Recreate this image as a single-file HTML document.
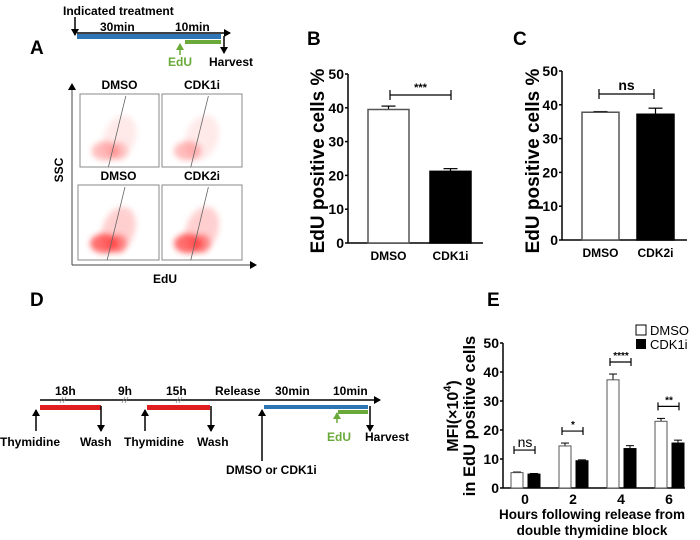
<!DOCTYPE html>
<html><head><meta charset="utf-8">
<style>
html,body{margin:0;padding:0;background:#fff;}
svg{display:block;font-family:"Liberation Sans",sans-serif;}
.b{font-weight:bold;}
</style></head>
<body>
<svg id="fig" width="700" height="540" viewBox="0 0 700 540">
<defs>
<marker id="ah" markerWidth="8" markerHeight="8" refX="6" refY="4" orient="auto" markerUnits="userSpaceOnUse"><path d="M0,0 L7,4 L0,8 z" fill="#000"/></marker>
<marker id="ahg" markerWidth="8" markerHeight="8" refX="6" refY="4" orient="auto" markerUnits="userSpaceOnUse"><path d="M0,0 L7,4 L0,8 z" fill="#6aaa3a"/></marker>
<filter id="blur" x="-50%" y="-50%" width="200%" height="200%"><feGaussianBlur stdDeviation="3"/></filter>
</defs>

<g>
<text x="30" y="54" font-size="19" class="b">A</text>
<text x="63" y="15" font-size="12" class="b">Indicated treatment</text>
<line x1="75" y1="17" x2="75" y2="35" stroke="#000" stroke-width="1.5" marker-end="url(#ah)"/>
<line x1="77" y1="33" x2="230" y2="33" stroke="#000" stroke-width="1.5" marker-end="url(#ah)"/>
<rect x="77" y="34" width="144" height="5" fill="#2e75b6"/>
<rect x="185" y="40" width="36" height="4" fill="#6aaa3a"/>
<line x1="224" y1="36" x2="224" y2="53" stroke="#000" stroke-width="1.5" marker-end="url(#ah)"/>
<line x1="180" y1="55" x2="180" y2="44" stroke="#6aaa3a" stroke-width="1.5" marker-end="url(#ahg)"/>
<text x="100" y="31" font-size="12" class="b">30min</text>
<text x="175" y="31" font-size="12" class="b">10min</text>
<text x="168" y="66" font-size="12" class="b" fill="#6aaa3a">EdU</text>
<text x="209" y="66" font-size="12" class="b">Harvest</text>
</g>

<g>
<line x1="72" y1="265" x2="72" y2="84" stroke="#444" stroke-width="1" marker-end="url(#ah)"/>
<line x1="72" y1="265" x2="256" y2="265" stroke="#444" stroke-width="1" marker-end="url(#ah)"/>
<text x="63" y="170" font-size="12" class="b" transform="rotate(-90 63 170)" text-anchor="middle">SSC</text>
<text x="165" y="283" font-size="12" class="b" text-anchor="middle">EdU</text>
<g id="plots"></g>
</g>

<g id="chartB"></g>
<g id="chartC"></g>

<g font-size="12" class="b">
<text x="30" y="306" font-size="19" class="b">D</text>
<line x1="40" y1="400" x2="380" y2="400" stroke="#000" stroke-width="1.5" marker-end="url(#ah)"/>
<rect x="40" y="405" width="61" height="5" fill="#e02020"/>
<rect x="147" y="405" width="63" height="5" fill="#e02020"/>
<rect x="264" y="405" width="104" height="4" fill="#2e75b6"/>
<rect x="338" y="410" width="30" height="4" fill="#6aaa3a"/>
<line x1="36" y1="431" x2="36" y2="410" stroke="#000" stroke-width="1.5" marker-end="url(#ah)"/>
<line x1="145" y1="431" x2="145" y2="410" stroke="#000" stroke-width="1.5" marker-end="url(#ah)"/>
<line x1="262" y1="461" x2="262" y2="410" stroke="#000" stroke-width="1.5" marker-end="url(#ah)"/>
<line x1="101" y1="406" x2="101" y2="431" stroke="#000" stroke-width="1.5" marker-end="url(#ah)"/>
<line x1="211" y1="406" x2="211" y2="431" stroke="#000" stroke-width="1.5" marker-end="url(#ah)"/>
<line x1="370" y1="406" x2="370" y2="431" stroke="#000" stroke-width="1.5" marker-end="url(#ah)"/>
<line x1="337" y1="423" x2="337" y2="413" stroke="#6aaa3a" stroke-width="1.5" marker-end="url(#ahg)"/>
<g stroke="#888" stroke-width="0.8"><path d="M60,403 l3,-6 M63,403 l3,-6 M122,403 l3,-6 M125,403 l3,-6 M176,403 l3,-6 M179,403 l3,-6"/></g>
<text x="55" y="395">18h</text><text x="118" y="395">9h</text><text x="166" y="395">15h</text>
<text x="215" y="395">Release</text><text x="275" y="395">30min</text><text x="333" y="395">10min</text>
<text x="0" y="446">Thymidine</text><text x="80" y="446">Wash</text><text x="124" y="446">Thymidine</text><text x="197" y="446">Wash</text>
<text x="226" y="474">DMSO or CDK1i</text><text x="327" y="441" fill="#6aaa3a">EdU</text><text x="365" y="441">Harvest</text>
</g>

<g id="chartE"></g>
</svg>
<script>
const NS="http://www.w3.org/2000/svg";
function mk(p,t,a,txt){const e=document.createElementNS(NS,t);for(const k in a)e.setAttribute(k,a[k]);if(txt!==undefined)e.textContent=txt;p.appendChild(e);return e;}

const plotTitles=["DMSO","CDK1i","DMSO","CDK2i"];
const plotBoxes=[[80,94,79,73],[162,94,80,73],[78,185,81,75],[162,185,80,75]];
const plots=document.getElementById('plots');
plotBoxes.forEach((b,i)=>{
  const g=mk(plots,'g',{});
  
  
  const [x,y,w,h]=b;
  const t=mk(g,'text',{x:x+w/2,y:y-5,'font-size':12,'font-weight':'bold','text-anchor':'middle'},plotTitles[i]);
  
  
  const op=i<2?0.3:0.65;
  mk(g,'ellipse',{cx:x+w*0.5,cy:y+h*0.6,rx:w*0.2,ry:h*0.32,fill:'#ff6060',opacity:op*0.45,filter:'url(#blur)', transform:`rotate(20 ${x+w*0.5} ${y+h*0.6})`});
  mk(g,'ellipse',{cx:x+w*0.32,cy:y+h*0.78,rx:w*0.17,ry:h*0.13,fill:'#ff2020',opacity:op,filter:'url(#blur)'});
  if(i!==1) mk(g,'ellipse',{cx:x+w*0.5,cy:y+h*0.78,rx:w*0.1,ry:h*0.12,fill:'#ff2020',opacity:op*0.7,filter:'url(#blur)'});
  mk(g,'rect',{x:x,y:y,width:w,height:h,fill:'none',stroke:'#888','stroke-width':1});
  mk(g,'line',{x1:x+w*0.36,y1:y+h,x2:x+w*0.58,y2:y+2,stroke:'#666','stroke-width':0.8});
});

const bCats=["DMSO","CDK1i"];
const bVals=[39.5,21.2];
const bErr=[1.0,0.8];
const bTicks=[0,10,20,30,40,50];
const cCats=["DMSO","CDK2i"];
const cVals=[37.8,37.2];
const cErr=[0.2,1.8];
const cTicks=[0,10,20,30,40,50];

function barChart(id,cfg){
  const g=document.getElementById(id);
  const ys=v=>cfg.y0-(v/50)*(cfg.y0-cfg.y50);
  mk(g,'text',{x:cfg.lx,y:45,'font-size':19,'font-weight':'bold'},cfg.label);
  mk(g,'line',{x1:cfg.ax,y1:ys(0),x2:cfg.ax,y2:ys(50),stroke:'#000','stroke-width':1.5});
  mk(g,'line',{x1:cfg.ax,y1:ys(0),x2:cfg.xend,y2:ys(0),stroke:'#000','stroke-width':1.5});
  cfg.ticks.forEach(t=>{
    mk(g,'line',{x1:cfg.ax-3,y1:ys(t),x2:cfg.ax,y2:ys(t),stroke:'#000','stroke-width':1.5});
    const tl=mk(g,'text',{x:cfg.ax-4,y:ys(t)+5,'font-size':14,'font-weight':'bold','text-anchor':'end'},t);
    
    
  });
  const cy=161;
  const yt=mk(g,'text',{x:cfg.tx,y:cy,'font-size':19,'font-weight':'bold','text-anchor':'middle',transform:`rotate(-90 ${cfg.tx} ${cy})`},'EdU positive cells %');
  
  
  cfg.vals.forEach((v,i)=>{
    const x=cfg.bx[i],w=cfg.bw;
    mk(g,'line',{x1:x+w/2,y1:ys(v),x2:x+w/2,y2:ys(v+cfg.err[i]),stroke:'#000','stroke-width':1.2});
    mk(g,'line',{x1:x+w/2-7,y1:ys(v+cfg.err[i]),x2:x+w/2+7,y2:ys(v+cfg.err[i]),stroke:'#000','stroke-width':1.2});
    if(i===0){mk(g,'line',{x1:x+w/2-7,y1:ys(v-cfg.err[i]),x2:x+w/2+7,y2:ys(v-cfg.err[i]),stroke:'#000','stroke-width':1.2});}
    const r=mk(g,'rect',{x:x,y:ys(v),width:w,height:ys(0)-ys(v),fill:i===0?'#fff':'#000',stroke:i===0?'#555':'#000','stroke-width':1.5});
    
    
    const cl=mk(g,'text',{x:x+w/2,y:ys(0)+17,'font-size':12,'font-weight':'bold','text-anchor':'middle'},cfg.cats[i]);
    
    
  });
  const [b1,b2]=cfg.br;
  mk(g,'path',{d:`M${b1},${cfg.by-5}V${cfg.by+5}M${b1},${cfg.by}H${b2}M${b2},${cfg.by-5}V${cfg.by+5}`,stroke:'#000','stroke-width':1.2,fill:'none'});
  const s=mk(g,'text',{x:(b1+b2)/2,y:cfg.by-4,'font-size':cfg.sig==='ns'?14:11,'font-weight':'bold','text-anchor':'middle'},cfg.sig);
  
  
}
barChart('chartB',{label:'B',lx:307,ax:348,y0:243,y50:74,xend:483,ticks:bTicks,tx:324,vals:bVals,err:bErr,cats:bCats,bx:[368,430],bw:41,br:[390,451],by:95,sig:'***'});
barChart('chartC',{label:'C',lx:513,ax:562,y0:240,y50:71,xend:687,ticks:cTicks,tx:539,vals:cVals,err:cErr,cats:cCats,bx:[582,637],bw:37,br:[599,654],by:94,sig:'ns'});

const eCats=["0","2","4","6"];
const eDmso=[5.3,14.5,37.3,23.0];
const eDmsoErr=[0.2,1.0,2.0,1.0];
const eCdk=[4.8,9.4,13.6,15.5];
const eCdkErr=[0.2,0.3,1.0,1.0];
const eTicks=[0,10,20,30,40,50];
const eSig=["ns","*","****","**"];
(function(){
  const g=document.getElementById('chartE');
  const y0=488,y50=343,ax=503;
  const ys=v=>y0-(v/50)*(y0-y50);
  const xc=i=>525+48*i;
  mk(g,'text',{x:487,y:306,'font-size':19,'font-weight':'bold'},'E');
  mk(g,'line',{x1:ax,y1:y0,x2:ax,y2:y50,stroke:'#000','stroke-width':1.5});
  mk(g,'line',{x1:ax,y1:y0,x2:685,y2:y0,stroke:'#000','stroke-width':1.5});
  eTicks.forEach(t=>{
    mk(g,'line',{x1:ax-3,y1:ys(t),x2:ax,y2:ys(t),stroke:'#000','stroke-width':1.5});
    const tl=mk(g,'text',{x:ax-4,y:ys(t)+5,'font-size':14,'font-weight':'bold','text-anchor':'end'},t);
    
    
  });
  const my=416;
  const t1=mk(g,'text',{x:458,y:my,'font-size':16,'font-weight':'bold','text-anchor':'middle',transform:`rotate(-90 458 ${my})`});
  
  
  t1.innerHTML='MFI(×10<tspan dy="-7" font-size="11">4</tspan><tspan dy="7">)</tspan>';
  mk(g,'text',{x:475,y:my,'font-size':16.5,'font-weight':'bold','text-anchor':'middle',transform:`rotate(-90 475 ${my})`},'in EdU positive cells');
  function bar(v,e,x,fill,name){
    mk(g,'line',{x1:x+6,y1:ys(v),x2:x+6,y2:ys(v+e),stroke:'#000','stroke-width':1});
    mk(g,'line',{x1:x+2,y1:ys(v+e),x2:x+10,y2:ys(v+e),stroke:'#000','stroke-width':1});
    const r=mk(g,'rect',{x:x,y:ys(v),width:12,height:ys(0)-ys(v),fill:fill,stroke:fill==='#fff'?'#555':'#000','stroke-width':1});
    
    
  }
  eCats.forEach((c,i)=>{
    const cx=xc(i);
    bar(eDmso[i],eDmsoErr[i],cx-14,'#fff','bar-dmso-'+c+'h');
    bar(eCdk[i],eCdkErr[i],cx+3,'#000','bar-cdk1i-'+c+'h');
    const tl=mk(g,'text',{x:cx,y:504,'font-size':14,'font-weight':'bold','text-anchor':'middle'},c);
    
    
    const top=Math.max(eDmso[i]+eDmsoErr[i],eCdk[i]+eCdkErr[i]);
    const by=ys(top)-12-(i===0?10:0);
    mk(g,'path',{d:`M${cx-11},${by-4}V${by+4}M${cx-11},${by}H${cx+10}M${cx+10},${by-4}V${by+4}`,stroke:'#000','stroke-width':1.2,fill:'none'});
    const s=mk(g,'text',{x:cx,y:by-3,'font-size':eSig[i]==='ns'?14:10,'font-weight':eSig[i]==='ns'?'normal':'bold','text-anchor':'middle'},eSig[i]);
    
    
  });
  const xt=mk(g,'text',{x:592,y:519,'font-size':13.5,'font-weight':'bold','text-anchor':'middle'},'Hours following release from');
  
  
  mk(g,'text',{x:592,y:535,'font-size':13.5,'font-weight':'bold','text-anchor':'middle'},'double thymidine block');
  const l1=mk(g,'g',{});
  
  
  mk(l1,'rect',{x:636,y:325,width:10,height:10,fill:'#fff',stroke:'#000','stroke-width':1});
  mk(l1,'text',{x:650,y:335,'font-size':13},'DMSO');
  const l2=mk(g,'g',{});
  
  
  mk(l2,'rect',{x:636,y:339,width:10,height:10,fill:'#000'});
  mk(l2,'text',{x:650,y:349,'font-size':13},'CDK1i');
})();
</script>
</body></html>
